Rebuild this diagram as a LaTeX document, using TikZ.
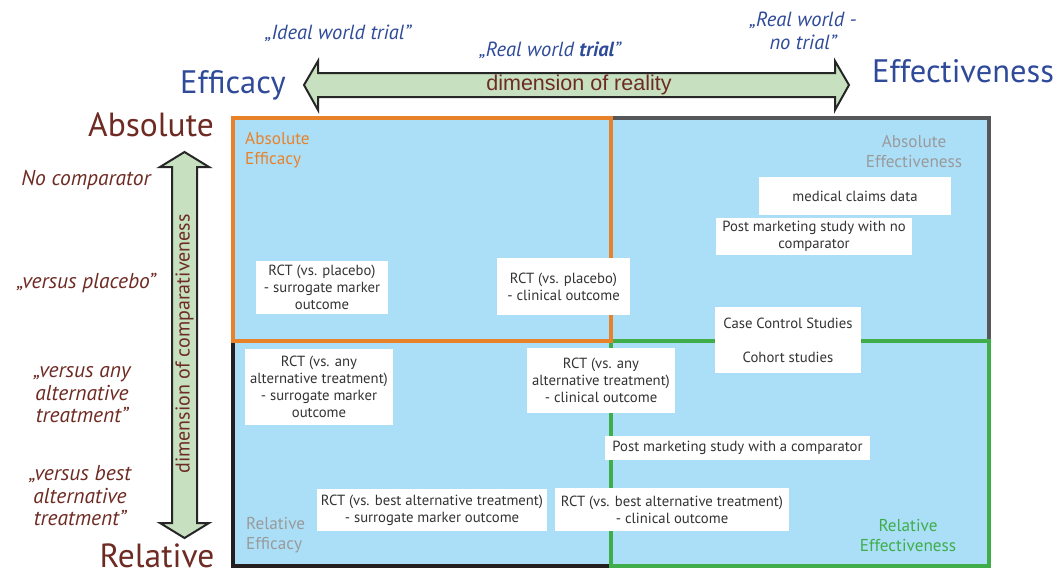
\documentclass[tikz,border=0pt]{standalone}
\usepackage{fontspec}
\setmainfont{PT Sans}
\newfontfamily\arialf{Liberation Sans}
\definecolor{qblue}{HTML}{ABDFF8}
\definecolor{qorange}{HTML}{E8822A}
\definecolor{qgrey}{HTML}{555759}
\definecolor{qblack}{HTML}{231F20}
\definecolor{qgreen}{HTML}{3FAE4A}
\definecolor{ttblue}{HTML}{2E4A99}
\definecolor{brown}{HTML}{6E2B23}
\definecolor{txtgray}{HTML}{333333}
\definecolor{lblgray}{HTML}{9A9A9A}
\definecolor{arrgreen}{HTML}{C6E0C0}
\tikzset{
  box/.style={fill=white, text=txtgray, align=center, inner sep=1pt,
    font=\fontsize{14.7}{17}\selectfont},
  quad/.style={line width=4pt},
  qlabel/.style={font=\fontsize{17.2}{20}\selectfont, inner sep=0pt},
  leftlbl/.style={text=brown, align=center, font=\fontsize{21.5}{22.5}\selectfont\itshape, inner sep=0pt},
  toplbl/.style={text=ttblue, align=center, font=\fontsize{20.5}{23}\selectfont\itshape, inner sep=0pt},
  bigblue/.style={text=ttblue, font=\fontsize{32.5}{36}\selectfont, inner sep=0pt, anchor=base},
  bigbrown/.style={text=brown, font=\fontsize{33.5}{36}\selectfont, inner sep=0pt, anchor=base},
  fatarrow/.style={fill=arrgreen, draw=black!85, line width=2pt, line join=miter}
}
\begin{document}
\begin{tikzpicture}[x=1pt,y=-1pt]
\useasboundingbox (0,0) rectangle (1058,573);
% background fill
\fill[qblue] (233,118) rectangle (989,566);
% quadrant frames
\draw[quad, qgrey] (611,118) rectangle (989,341);
\draw[quad, qblack] (233,341) rectangle (611,566);
\draw[quad, qgreen] (611,341) rectangle (989,566);
\draw[quad, qorange] (233,118) rectangle (611,341);
% quadrant labels
\node[qlabel, text=qorange, align=left, anchor=north west] (qae) at (245,132) {Absolute\\Efficacy};
\node[qlabel, text=lblgray, align=center] (qaf) at (914,151) {Absolute\\Effectiveness};
\node[qlabel, text=lblgray, align=left, anchor=west] (qre) at (246,535) {Relative\\Efficacy};
\node[qlabel, text=qgreen, align=center] (qrf) at (908,536) {Relative\\Effectiveness};
% study boxes
\node[box, minimum width=132, minimum height=53] (b1) at (322,287.5) {RCT (vs. placebo)\\- surrogate marker\\outcome};
\node[box, minimum width=133, minimum height=57] (b2) at (563.5,286.5) {RCT (vs. placebo)\\- clinical outcome};
\node[box, minimum width=192, minimum height=38] (b3) at (855,196) {medical claims data};
\node[box, minimum width=196, minimum height=37] (b4) at (814,236.5) {Post marketing study with no\\comparator};
\node[box, minimum width=146, minimum height=66, font=\fontsize{14.7}{34}\selectfont] (b5) at (788,340) {Case Control Studies\\Cohort studies};
\node[box, minimum width=148, minimum height=76] (b6) at (319,387) {RCT (vs. any\\alternative treatment)\\- surrogate marker\\outcome};
\node[box, minimum width=148, minimum height=65] (b7) at (601,380.5) {RCT (vs. any\\alternative treatment)\\- clinical outcome};
\node[box, minimum width=265, minimum height=24] (b8) at (737.5,448) {Post marketing study with a comparator};
\node[box, minimum width=230, minimum height=42] (b9) at (432,510) {RCT (vs. best alternative treatment)\\- surrogate marker outcome};
\node[box, minimum width=234, minimum height=43] (b10) at (672,509.5) {RCT (vs. best alternative treatment)\\- clinical outcome};
% horizontal arrow
\draw[fatarrow] (304,85) -- (318,61) -- (318,73) -- (835,73) -- (835,61) -- (849,85)
  -- (835,110) -- (835,97) -- (318,97) -- (318,110) -- cycle;
\node[text=brown, font=\arialf\fontsize{21.5}{22}\selectfont, inner sep=0pt] (dr) at (579,85) {dimension of reality};
% vertical arrow
\draw[fatarrow] (184.5,152) -- (209,167) -- (197,167) -- (197,523) -- (209,523) -- (184.5,538)
  -- (160,523) -- (172,523) -- (172,167) -- (160,167) -- cycle;
\node[text=brown, font=\fontsize{20}{22}\selectfont, inner sep=0pt, rotate=90] (dc) at (184.5,344) {dimension of comparativeness};
% big titles
\node[bigblue] (eff) at (233,93) {Efficacy};
\node[bigblue] (effv) at (963,82) {Effectiveness};
\node[bigbrown] (abs) at (151,136) {Absolute};
\node[bigbrown] (rel) at (157,567) {Relative};
% top italic labels
\node[toplbl] (t1) at (338,33) {„Ideal world trial”};
\node[toplbl] (t2) at (550,50) {„Real world \textbf{trial}”};
\node[toplbl] (t3) at (803,31) {„Real world -\\no trial”};
% left italic labels
\node[leftlbl] (l1) at (86,180) {No comparator};
\node[leftlbl] (l2) at (86,283) {„versus placebo”};
\node[leftlbl] (l3) at (82,395) {„versus any\\alternative\\treatment”};
\node[leftlbl] (l4) at (80,496) {„versus best\\alternative\\treatment”};
\end{tikzpicture}
\end{document}
